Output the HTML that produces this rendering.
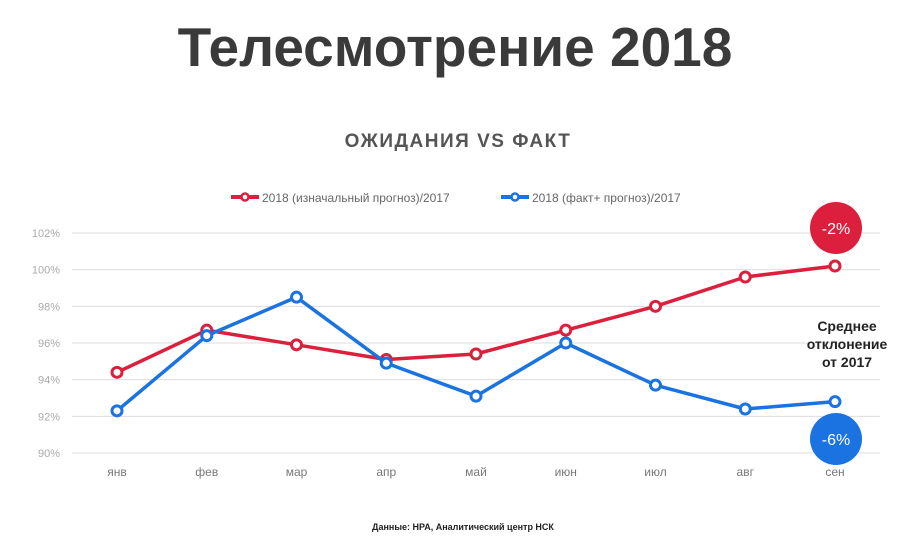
<!DOCTYPE html>
<html><head><meta charset="utf-8"><style>
body{margin:0;width:906px;height:545px;background:#fff;overflow:hidden;font-family:"Liberation Sans","Noto Sans CJK SC",sans-serif}
</style></head><body>
<svg id="c" width="906" height="545" viewBox="0 0 906 545" xmlns="http://www.w3.org/2000/svg">
<text x="455" y="66" text-anchor="middle" font-size="55" font-weight="bold" fill="#3a3a3a">Телесмотрение 2018</text>
<text x="458" y="147" text-anchor="middle" font-size="19" font-weight="bold" fill="#555" letter-spacing="1.5">ОЖИДАНИЯ VS ФАКТ</text>
<g>
<g><line x1="231" y1="197" x2="259" y2="197" stroke="#dc1f3c" stroke-width="4"/><circle cx="245" cy="197" r="3.5" fill="#fff" stroke="#dc1f3c" stroke-width="2.5"/><text x="262" y="202" font-size="12" fill="#666">2018 (изначальный прогноз)/2017</text></g>
<g><line x1="501" y1="197" x2="529" y2="197" stroke="#1a73e0" stroke-width="4"/><circle cx="515" cy="197" r="3.5" fill="#fff" stroke="#1a73e0" stroke-width="2.5"/><text x="532" y="202" font-size="12" fill="#666">2018 (факт+ прогноз)/2017</text></g>
</g>
<g id="grid"></g><g id="series"></g>
<g><circle cx="836" cy="228" r="26" fill="#dc1f3c"/><text x="836" y="234" text-anchor="middle" font-size="16" fill="#fff">-2%</text></g>
<g><circle cx="836" cy="439" r="26" fill="#1a73e0"/><text x="836" y="445" text-anchor="middle" font-size="16" fill="#fff">-6%</text></g>
<text text-anchor="middle" font-size="14" font-weight="bold" fill="#222"><tspan x="847" y="331">Среднее</tspan><tspan x="847" y="349">отклонение</tspan><tspan x="847" y="367">от 2017</tspan></text>
<text x="463" y="530" text-anchor="middle" font-size="9" font-weight="bold" fill="#222">Данные: НРА, Аналитический центр НСК</text>
</svg>
<script>
const categories=["янв","фев","мар","апр","май","июн","июл","авг","сен"];
const redValues=[94.4,96.7,95.9,95.1,95.4,96.7,98.0,99.6,100.2];
const blueValues=[92.3,96.4,98.5,94.9,93.1,96.0,93.7,92.4,92.8];
const yTicks=[90,92,94,96,98,100,102];
const NS="http://www.w3.org/2000/svg";
const x=i=>117+i*(835-117)/(categories.length-1);
const y=v=>453-(v-90)*(453-233)/12;
function mk(t,a,p){const e=document.createElementNS(NS,t);for(const k in a)e.setAttribute(k,a[k]);p.appendChild(e);return e;}
const g=document.getElementById('grid');
yTicks.forEach(v=>{
 const l=mk('line',{x1:72,x2:880,y1:y(v),y2:y(v),stroke:'#ddd','stroke-width':1},g);
 
 
 const t=mk('text',{x:60,y:y(v)+4,'text-anchor':'end','font-size':11,fill:'#aaa'},g);
 t.textContent=v+'%';
 
 
});
categories.forEach((c,i)=>{
 const t=mk('text',{x:x(i),y:476,'text-anchor':'middle','font-size':12,fill:'#777'},g);
 t.textContent=c;
 
 
});
const s=document.getElementById('series');
[[redValues,'#dc1f3c','red'],[blueValues,'#1a73e0','blue']].forEach(([vals,col,n])=>{
 const p=mk('polyline',{points:vals.map((v,i)=>x(i)+','+y(v)).join(' '),fill:'none',stroke:col,'stroke-width':3.5,'stroke-linejoin':'round'},s);
 
 
 vals.forEach((v,i)=>{
  const c=mk('circle',{cx:x(i),cy:y(v),r:5,fill:'#fff',stroke:col,'stroke-width':3},s);
  
  
 });
});
</script>
</body></html>
